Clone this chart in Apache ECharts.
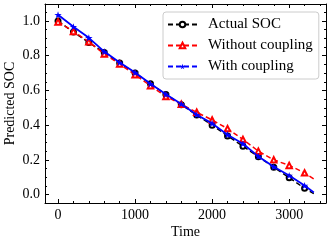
<!DOCTYPE html>
<html>
<head>
<meta charset="utf-8">
<script src="https://cdn.jsdelivr.net/npm/echarts@6/dist/echarts.min.js"></script>
<style>
html,body{margin:0;padding:0;background:#fff;}
#chart{width:332px;height:244px;}
</style>
</head>
<body>
<div id="chart"></div>
<script>
// ---- data ----
var times = [0, 200, 400, 600, 800, 1000, 1200, 1400, 1600, 1800, 2000, 2200, 2400, 2600, 2800, 3000, 3200, 3320];
var actualSOC = [1.000, 0.936, 0.876, 0.818, 0.758, 0.700, 0.638, 0.577, 0.518, 0.458, 0.400, 0.338, 0.278, 0.218, 0.158, 0.097, 0.036, 0.005];
var withoutCoupling = [0.995, 0.940, 0.880, 0.810, 0.752, 0.690, 0.627, 0.565, 0.520, 0.474, 0.430, 0.380, 0.318, 0.250, 0.200, 0.168, 0.125, 0.090];
var withCoupling = [1.036, 0.967, 0.903, 0.824, 0.761, 0.703, 0.638, 0.578, 0.522, 0.460, 0.410, 0.345, 0.293, 0.220, 0.160, 0.110, 0.052, 0.012];
var seriesNames = ['Actual SOC', 'Without coupling', 'With coupling'];
var xMajorTicks = [0, 1000, 2000, 3000];
var xMinorTicks = [200, 400, 600, 800, 1200, 1400, 1600, 1800, 2200, 2400, 2600, 2800, 3200, 3400];
var yMajorTicks = [0, 0.2, 0.4, 0.6, 0.8, 1.0];
var yMinorTicks = [0.05, 0.1, 0.15, 0.25, 0.3, 0.35, 0.45, 0.5, 0.55, 0.65, 0.7, 0.75, 0.85, 0.9, 0.95, 1.05];
var xName = 'Time';
var yName = 'Predicted SOC';

// ---- chart ----
var XMIN = -169, XMAX = 3478, YMIN = -0.0486, YMAX = 1.098;
var FONT = '"Liberation Serif", "Times New Roman", serif';
var STAR = 'path://M0,-10 L2.245,-3.09 L9.511,-3.09 L3.633,1.18 L5.878,8.09 L0,3.82 L-5.878,8.09 L-3.633,1.18 L-9.511,-3.09 L-2.245,-3.09 Z';

function pts(vals) {
  return times.map(function (t, i) {
    var d = { value: [t, vals[i]] };
    if (t % 200 !== 0) d.symbol = 'none';
    return d;
  });
}

function xAx(pos, ticks, len, labels, line) {
  return {
    type: 'value', position: pos, min: XMIN, max: XMAX,
    axisLine: { show: line, onZero: false, lineStyle: { color: '#000', width: 1 } },
    axisTick: { show: true, inside: true, length: len, customValues: ticks, lineStyle: { color: '#000', width: 1 } },
    axisLabel: labels ? { show: true, customValues: ticks, color: '#000', fontFamily: FONT, fontSize: 14, margin: 5,
      formatter: function (v) { return String(v); } } : { show: false },
    splitLine: { show: false },
    name: labels ? xName : '', nameLocation: 'middle', nameGap: 22, nameMoveOverlap: false,
    nameTextStyle: { color: '#000', fontFamily: FONT, fontSize: 14 }
  };
}
function yAx(pos, ticks, len, labels, line) {
  return {
    type: 'value', position: pos, min: YMIN, max: YMAX,
    axisLine: { show: line, onZero: false, lineStyle: { color: '#000', width: 1 } },
    axisTick: { show: true, inside: true, length: len, customValues: ticks, lineStyle: { color: '#000', width: 1 } },
    axisLabel: labels ? { show: true, customValues: ticks, color: '#000', fontFamily: FONT, fontSize: 14, margin: 5,
      formatter: function (v) { return v.toFixed(1); } } : { show: false },
    splitLine: { show: false },
    name: labels ? yName : '', nameLocation: 'middle', nameGap: 28, nameRotate: 90, nameMoveOverlap: false,
    nameTextStyle: { color: '#000', fontFamily: FONT, fontSize: 14 }
  };
}

var chart = echarts.init(document.getElementById('chart'), null, { renderer: 'canvas' });
chart.setOption({
  animation: false,
  backgroundColor: '#fff',
  grid: { left: 45, right: 6, top: 4, bottom: 41, containLabel: false, outerBoundsMode: 'none' },
  xAxis: [
    xAx('bottom', xMajorTicks, 4, true, true),
    xAx('bottom', xMinorTicks, 2, false, false),
    xAx('top', xMajorTicks, 4, false, true),
    xAx('top', xMinorTicks, 2, false, false)
  ],
  yAxis: [
    yAx('left', yMajorTicks, 4, true, true),
    yAx('left', yMinorTicks, 2, false, false),
    yAx('right', yMajorTicks, 4, false, true),
    yAx('right', yMinorTicks, 2, false, false)
  ],
  legend: {
    orient: 'vertical', left: 163, top: 12,
    padding: [5, 6, 5, 4],
    itemWidth: 29, itemHeight: 7, itemGap: 6,
    borderColor: '#cccccc', borderWidth: 1, borderRadius: 3,
    backgroundColor: 'rgba(255,255,255,0.8)',
    textStyle: { color: '#000', fontFamily: FONT, fontSize: 15, lineHeight: 14, padding: [0, 0, 0, 6] },
    data: [
      { name: seriesNames[0] },
      { name: seriesNames[1] },
      { name: seriesNames[2], lineStyle: { type: [5, 3] } }
    ]
  },
  series: [
    {
      name: seriesNames[0], type: 'line', data: pts(actualSOC),
      lineStyle: { color: '#000', width: 1.5, type: [5, 3] },
      itemStyle: { color: '#000', borderColor: '#000', borderWidth: 1.2 },
      symbol: 'emptyCircle', symbolSize: 5, z: 2
    },
    {
      name: seriesNames[1], type: 'line', data: pts(withoutCoupling),
      lineStyle: { color: '#ff0000', width: 1.5, type: [5, 3] },
      itemStyle: { color: '#ff0000', borderColor: '#ff0000', borderWidth: 1.2 },
      symbol: 'emptyTriangle', symbolSize: 5.5, z: 3
    },
    {
      name: seriesNames[2], type: 'line', data: pts(withCoupling),
      lineStyle: { color: '#0000ff', width: 1.8, type: 'solid' },
      itemStyle: { color: '#0000ff', borderColor: '#0000ff', borderWidth: 0 },
      symbol: STAR, symbolSize: 7.5, symbolKeepAspect: true, z: 4
    }
  ]
});
</script>
</body>
</html>
